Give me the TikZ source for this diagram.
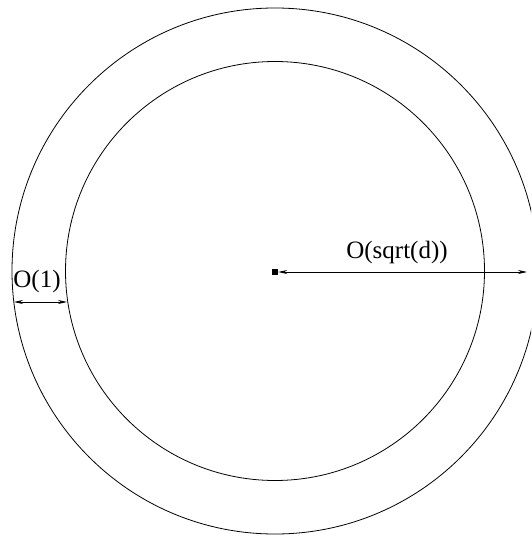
\documentclass[tikz,border=0pt]{standalone}
\usepackage{fontspec}
\setmainfont{Liberation Serif}
\usetikzlibrary{arrows.meta}
\begin{document}
\begin{tikzpicture}[x=1pt,y=-1pt,
  ring/.style={draw,circle,line width=0.8pt,inner sep=0pt},
  dim/.style={line width=0.8pt,{Stealth[length=9pt,width=4pt]}-{Stealth[length=9pt,width=4pt]}},
  lbl/.style={font=\fontsize{25}{30}\selectfont,inner sep=0pt}]
\useasboundingbox (0,0) rectangle (531,537);
\clip (0,0) rectangle (531,537);
\node[ring,minimum size=526pt] (outer) at (275,271) {};
\node[ring,minimum size=419pt] (inner) at (275,271) {};
\node[fill=black,minimum size=6pt,inner sep=0pt] (c) at (275,272) {};
\coordinate (tip) at (527,272);
\draw[dim] (c.east) -- (tip);
\node[lbl] (l2) at (397,252) {O(sqrt(d))};
\coordinate (a1) at (14,302);
\coordinate (a2) at (67,302);
\draw[dim] (a1) -- (a2);
\node[lbl] (l1) at (37,281) {O(1)};
\end{tikzpicture}
\end{document}
